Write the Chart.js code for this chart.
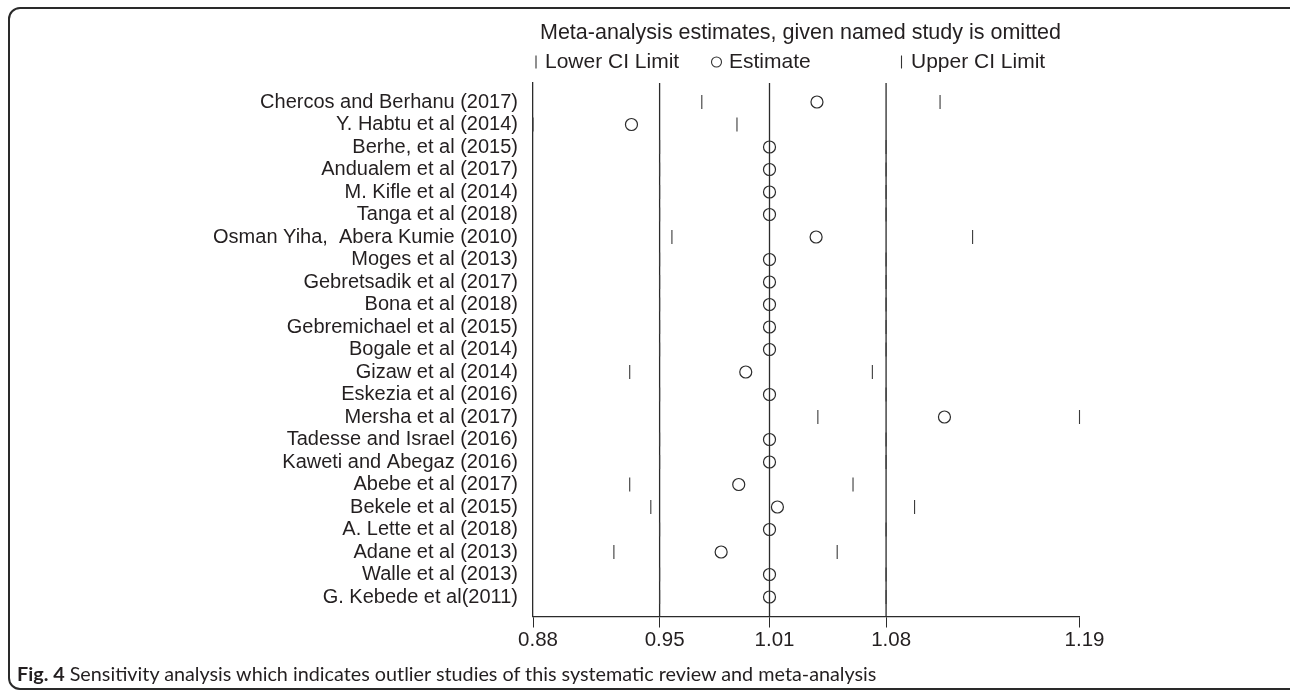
<!DOCTYPE html>
<html>
<head>
<meta charset="utf-8">
<script src="https://cdn.jsdelivr.net/npm/chart.js@4.4.1/dist/chart.umd.min.js"></script>
<style>
  html, body { margin: 0; padding: 0; width: 1290px; height: 691px; overflow: hidden; background: #fff; }
  #frame { position: absolute; left: 8px; top: 7px; width: 1400px; height: 683px; box-sizing: border-box;
           border: 2px solid #2a2a2a; border-radius: 12px; }
  #chart { position: absolute; left: 0; top: 0; }
  #caption { position: absolute; left: 17px; top: 660px; font-family: Lato, "Open Sans", sans-serif;
             font-size: 19.8px; line-height: 26px; color: #231f20; white-space: nowrap; }
  #caption b { font-weight: 700; }
</style>
</head>
<body>
<div id="frame"></div>
<canvas id="chart" width="1290" height="691"></canvas>
<div id="caption"><b>Fig. 4</b> Sensitivity analysis which indicates outlier studies of this systematic review and meta-analysis</div>
<script>
// ---------------- data ----------------
const studies = [
  "Chercos and Berhanu (2017)", "Y. Habtu et al (2014)", "Berhe, et al (2015)", "Andualem et al (2017)",
  "M. Kifle et al (2014)", "Tanga et al (2018)", "Osman Yiha,  Abera Kumie (2010)", "Moges et al (2013)",
  "Gebretsadik et al (2017)", "Bona et al (2018)", "Gebremichael et al (2015)", "Bogale et al (2014)",
  "Gizaw et al (2014)", "Eskezia et al (2016)", "Mersha et al (2017)", "Tadesse and Israel (2016)",
  "Kaweti and Abegaz (2016)", "Abebe et al (2017)", "Bekele et al (2015)", "A. Lette et al (2018)",
  "Adane et al (2013)", "Walle et al (2013)", "G. Kebede et al(2011)"
];
const lowerCI  = [0.972, 0.876, 0.948, 0.948, 0.948, 0.948, 0.955, 0.948, 0.948, 0.948, 0.948, 0.948,
                  0.931, 0.948, 1.038, 0.948, 0.948, 0.931, 0.943, 0.948, 0.922, 0.948, 0.948];
const estimate = [1.0375, 0.932, 1.0105, 1.0105, 1.0105, 1.0105, 1.037, 1.0105, 1.0105, 1.0105, 1.0105, 1.0105,
                  0.997, 1.0105, 1.110, 1.0105, 1.0105, 0.993, 1.015, 1.0105, 0.983, 1.0105, 1.0105];
const upperCI  = [1.1075, 0.992, 1.0768, 1.0768, 1.0768, 1.0768, 1.126, 1.0768, 1.0768, 1.0768, 1.0768, 1.0768,
                  1.069, 1.0768, 1.1868, 1.0768, 1.0768, 1.058, 1.093, 1.0768, 1.049, 1.0768, 1.0768];
const pooled   = [0.948, 1.0105, 1.0768];          // pooled lower CI, estimate, upper CI
const tickValues = [0.876, 0.948, 1.0105, 1.0768, 1.1868];
const tickLabels = ["0.88", "0.95", "1.01", "1.08", "1.19"];
const titleText = "Meta-analysis estimates, given named study is omitted";
const legendLabels = ["Lower CI Limit", "Estimate", "Upper CI Limit"];

// ---------------- chart ----------------
const FONT = '"Liberation Sans", Arial, Helvetica, sans-serif';
const INK = '#231f20';
const Y_MIN = -0.844, Y_MAX = 22.867;

const toPts = arr => arr.map((v, i) => ({ x: v, y: i }));
const refLine = v => ({
  type: 'line', data: [{ x: v, y: Y_MIN }, { x: v, y: Y_MAX }],
  borderColor: '#2b2b2b', borderWidth: 1.3, pointRadius: 0, order: 10, clip: false
});
const ciMarks = arr => ({
  type: 'scatter', data: toPts(arr), pointStyle: 'line', rotation: 90, pointRadius: 7,
  borderColor: '#3a3a3a', borderWidth: 1.1, order: 1, clip: false
});

const headerPlugin = {
  id: 'header',
  afterDraw(chart) {
    const ctx = chart.ctx;
    ctx.save();
    ctx.fillStyle = INK;
    ctx.strokeStyle = '#333';
    ctx.textBaseline = 'middle';
    ctx.textAlign = 'left';
    ctx.font = '21.5px ' + FONT;
    ctx.fillText(titleText, 540, 33);
    ctx.font = '21px ' + FONT;
    const ly = 62;
    // lower CI key
    ctx.lineWidth = 1.1;
    ctx.beginPath(); ctx.moveTo(536, ly - 6.5); ctx.lineTo(536, ly + 6.5); ctx.stroke();
    ctx.fillText(legendLabels[0], 545, ly);
    // estimate key
    ctx.beginPath(); ctx.arc(716.5, ly, 5, 0, Math.PI * 2); ctx.stroke();
    ctx.fillText(legendLabels[1], 729, ly);
    // upper CI key
    ctx.beginPath(); ctx.moveTo(901.5, ly - 6.5); ctx.lineTo(901.5, ly + 6.5); ctx.stroke();
    ctx.fillText(legendLabels[2], 911, ly);
    ctx.restore();
  }
};

new Chart(document.getElementById('chart'), {
  data: {
    datasets: [
      refLine(pooled[0]), refLine(pooled[1]), refLine(pooled[2]),
      ciMarks(lowerCI),
      {
        type: 'scatter', data: toPts(estimate), pointStyle: 'circle', pointRadius: 6,
        borderColor: '#2b2b2b', backgroundColor: 'rgba(255,255,255,0)', borderWidth: 1.2, order: 0, clip: false
      },
      ciMarks(upperCI)
    ]
  },
  options: {
    responsive: false,
    devicePixelRatio: 1,
    animation: false,
    events: [],
    layout: { padding: { top: 83, right: 210.5, left: 0, bottom: 0 } },
    plugins: { legend: { display: false }, tooltip: { enabled: false }, title: { display: false } },
    scales: {
      x: {
        type: 'linear', position: 'bottom',
        min: tickValues[0], max: tickValues[tickValues.length - 1],
        afterBuildTicks: s => { s.ticks = tickValues.map(v => ({ value: v })); },
        afterFit: s => { s.height = 691 - 616.5; },
        grid: { drawOnChartArea: false, drawTicks: true, tickLength: 11, color: '#2b2b2b', lineWidth: 1 },
        border: { display: true, color: '#2b2b2b', width: 1.3 },
        ticks: {
          autoSkip: false, maxRotation: 0, padding: 1, labelOffset: 5,
          color: INK, font: { family: FONT, size: 20.5 },
          callback: (v, i) => tickLabels[i]
        }
      },
      y: {
        type: 'linear', reverse: true, min: Y_MIN, max: Y_MAX,
        afterBuildTicks: s => { s.ticks = studies.map((_, i) => ({ value: i })); },
        afterFit: s => { s.width = 533; },
        grid: { display: false, drawTicks: false },
        border: { display: true, color: '#2b2b2b', width: 1.3 },
        ticks: {
          autoSkip: false, padding: 15, color: INK, font: { family: FONT, size: 20 },
          callback: (v, i) => studies[i]
        }
      }
    }
  },
  plugins: [headerPlugin]
});
</script>
</body>
</html>
